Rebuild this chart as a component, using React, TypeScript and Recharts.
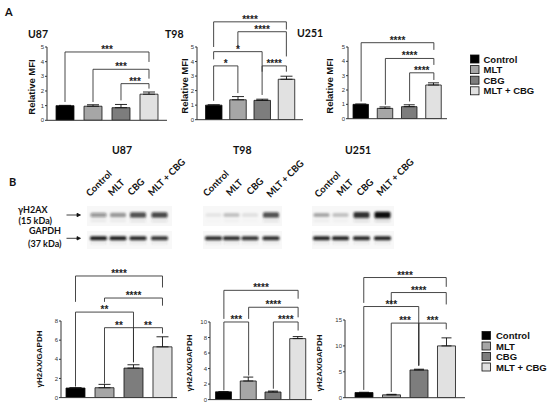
import React from 'react';
import { BarChart, Bar, Cell, XAxis, YAxis, ErrorBar, ReferenceLine } from 'recharts';

const groups = ['Control', 'MLT', 'CBG', 'MLT + CBG'];
const groupColors = ['#000000', '#a6a6a6', '#7d7d7d', '#e1e1e1'];

// A: relative MFI
const mfiU87 = [1.0, 0.96, 0.86, 1.78];
const mfiU87Err = [0.02, 0.1, 0.22, 0.15];
const mfiT98 = [1.0, 1.37, 1.33, 2.78];
const mfiT98Err = [0.02, 0.22, 0.08, 0.21];
const mfiU251 = [1.0, 0.72, 0.84, 2.35];
const mfiU251Err = [0.02, 0.1, 0.13, 0.15];
const mfiTicks = [0, 1, 2, 3, 4, 5];

// B: gH2AX / GAPDH
const ratioU87 = [1.0, 1.03, 3.08, 5.3];
const ratioU87Err = [0.03, 0.35, 0.35, 1.05];
const ratioT98 = [1.0, 2.4, 0.98, 7.86];
const ratioT98Err = [0.03, 0.5, 0.12, 0.26];
const ratioU251 = [1.0, 0.55, 5.35, 10.0];
const ratioU251Err = [0.05, 0.1, 0.15, 1.55];
const ticksU87 = [0, 2, 4, 6, 8];
const ticksT98 = [0, 2, 4, 6, 8, 10];
const ticksU251 = [0, 5, 10, 15];

// brackets: [from, to, level, left leg end, right leg end, stars]
type Sig = [string, string, number, number, number, string];
const sigMfiU87: Sig[] = [
  ['Control', 'MLT + CBG', 4.66, 1.25, 3.98, '***'],
  ['MLT', 'MLT + CBG', 3.48, 1.25, 2.84, '***'],
  ['CBG', 'MLT + CBG', 2.5, 1.36, 2.16, '***'],
];
const sigMfiT98: Sig[] = [
  ['Control', 'MLT + CBG', 6.73, 5.0, 6.2, '****'],
  ['MLT', 'MLT + CBG', 6.05, 5.0, 4.35, '****'],
  ['Control', 'CBG', 4.68, 4.15, 3.3, '*'],
  ['Control', 'MLT', 3.7, 1.3, 1.83, '*'],
  ['CBG', 'MLT + CBG', 3.7, 1.7, 3.3, '****'],
];
const sigMfiU251: Sig[] = [
  ['Control', 'MLT + CBG', 5.3, 1.2, 4.8, '****'],
  ['MLT', 'MLT + CBG', 4.2, 0.97, 3.75, '****'],
  ['CBG', 'MLT + CBG', 3.2, 1.2, 2.7, '****'],
];
const sigRatioU87: Sig[] = [
  ['Control', 'MLT + CBG', 12.7, 10.0, 11.5, '****'],
  ['MLT', 'MLT + CBG', 10.4, 10.0, 9.6, '****'],
  ['Control', 'CBG', 8.93, 1.15, 3.7, '**'],
  ['MLT', 'CBG', 7.3, 1.46, 3.7, '**'],
  ['CBG', 'MLT + CBG', 7.3, 3.7, 6.7, '**'],
];
const sigRatioT98: Sig[] = [
  ['Control', 'MLT + CBG', 14.08, 10.4, 13.0, '****'],
  ['MLT', 'MLT + CBG', 11.9, 10.4, 10.6, '****'],
  ['Control', 'MLT', 10.0, 1.2, 3.1, '***'],
  ['CBG', 'MLT + CBG', 10.0, 1.4, 8.9, '****'],
];
const sigRatioU251: Sig[] = [
  ['Control', 'MLT + CBG', 23.2, 18.3, 21.4, '****'],
  ['MLT', 'MLT + CBG', 20.3, 18.0, 18.0, '****'],
  ['Control', 'CBG', 17.6, 1.5, 6.2, '***'],
  ['MLT', 'CBG', 14.4, 1.1, 6.2, '***'],
  ['CBG', 'MLT + CBG', 14.4, 6.2, 13.2, '***'],
];

// blot band intensities (0..1) per lane
const blotU87H2ax = [0.42, 0.38, 0.72, 0.76];
const blotU87Gapdh = [0.95, 0.95, 0.9, 0.85];
const blotT98H2ax = [0.08, 0.22, 0.1, 0.72];
const blotT98Gapdh = [0.88, 0.88, 0.85, 0.88];
const blotU251H2ax = [0.32, 0.22, 0.85, 1.0];
const blotU251Gapdh = [0.92, 0.92, 0.9, 0.92];

type Frame = { left: number; right: number; top: number; base: number; pad: number; bar: number; cap: number };

const AXIS = '#333';
const SANS = '"Liberation Sans", Arial, sans-serif';
const TITLE = 'Lato, "Open Sans", sans-serif';

const Stars = (props: any) => {
  const { viewBox, text } = props;
  if (!viewBox) return null;
  return (
    <text x={viewBox.x + viewBox.width / 2} y={viewBox.y + 1} textAnchor="middle" fontSize={10} fontWeight={700} fill="#222" fontFamily={SANS}>
      {text}
    </text>
  );
};

function SigChart({ values, errs, ticks, sig, frame }: { values: number[]; errs: number[]; ticks: number[]; sig: Sig[]; frame: Frame }) {
  const data = groups.map((g, i) => ({ name: g, value: values[i], err: [0, errs[i]] }));
  const yw = 18;
  const mt = 64;
  const xh = 2;
  const w = yw + frame.right - frame.left + 3;
  const h = mt + frame.base - frame.top + xh + 2;
  const lineProps = { stroke: '#333', strokeWidth: 0.9, ifOverflow: 'visible' as const };
  return (
    <div style={{ position: 'absolute', left: frame.left - yw, top: frame.top - mt }}>
      <BarChart width={w} height={h} data={data} margin={{ top: mt, right: 3, bottom: 2, left: 0 }}>
        <XAxis dataKey="name" type="category" tick={false} tickLine={false} axisLine={{ stroke: AXIS }} height={xh} padding={{ left: frame.pad, right: frame.pad }} />
        <YAxis type="number" domain={[0, ticks[ticks.length - 1]]} ticks={ticks} interval={0} allowDataOverflow width={yw} tickSize={2} tickMargin={1} tick={{ fontSize: 6, fill: '#333' }} axisLine={{ stroke: AXIS }} tickLine={{ stroke: AXIS }} />
        <Bar dataKey="value" barSize={frame.bar} stroke="#111" strokeWidth={0.8} isAnimationActive={false}>
          {data.map((d, i) => (
            <Cell key={d.name} fill={groupColors[i]} />
          ))}
          <ErrorBar dataKey="err" direction="y" width={frame.cap} stroke="#111" strokeWidth={0.9} />
        </Bar>
        {sig.flatMap(([from, to, level, leftEnd, rightEnd, stars], i) => [
          <ReferenceLine
            key={`h${i}`}
            segment={[{ x: from, y: level }, { x: to, y: level }]}
            {...lineProps}
            label={<Stars text={stars} />}
          />,
          <ReferenceLine key={`l${i}`} segment={[{ x: from, y: leftEnd }, { x: from, y: level }]} {...lineProps} />,
          <ReferenceLine key={`r${i}`} segment={[{ x: to, y: rightEnd }, { x: to, y: level }]} {...lineProps} />,
        ])}
      </BarChart>
    </div>
  );
}

function Legend({ x, y, step, tx }: { x: number; y: number; step: number; tx: number }) {
  return (
    <g>
      {groups.map((g, i) => (
        <g key={g}>
          <rect x={x} y={y + i * step} width={8.5} height={8} fill={groupColors[i]} stroke="#111" strokeWidth={0.8} />
          <text x={tx} y={y + i * step + 7.6} fontSize={9.5} fontWeight={700} fontFamily={SANS} fill="#111">
            {g}
          </text>
        </g>
      ))}
    </g>
  );
}

function Blot({ x0, x1, lanes, h2ax, gapdh, starts }: { x0: number; x1: number; lanes: number[]; h2ax: number[]; gapdh: number[]; starts: [number, number][] }) {
  return (
    <g>
      <rect x={x0} y={206} width={x1 - x0} height={20} fill="#f7f7f7" />
      <rect x={x0} y={231} width={x1 - x0} height={18} fill="#f8f8f8" />
      {lanes.map((cx, i) => (
        <g key={i} filter="url(#blur)">
          <rect x={cx - 8} y={215 - (1.6 + 1.6 * h2ax[i])} width={16} height={3.2 + 3.2 * h2ax[i]} rx={1.5} fill="#111" opacity={h2ax[i]} />
          <rect x={cx - 8} y={219.5} width={16} height={2.5} rx={1} fill="#333" opacity={h2ax[i] * 0.15} />
          <rect x={cx - 8.5} y={236.3} width={17} height={4} rx={1.5} fill="#111" opacity={gapdh[i]} />
          <rect x={cx - 8} y={242.5} width={16} height={1.6} rx={0.8} fill="#444" opacity={0.12} />
        </g>
      ))}
      {groups.map((g, i) => (
        <text key={g} x={starts[i][0]} y={starts[i][1]} fontSize={9.5} fontWeight={700} fontFamily={TITLE} fill="#111" transform={`rotate(-45 ${starts[i][0]} ${starts[i][1]})`}>
          {g}
        </text>
      ))}
    </g>
  );
}

function YLabel({ x, y, text, size }: { x: number; y: number; text: string; size: number }) {
  return (
    <text x={x} y={y} fontSize={size} fontWeight={700} fontFamily={SANS} fill="#111" textAnchor="middle" dominantBaseline="central" transform={`rotate(-90 ${x} ${y})`}>
      {text}
    </text>
  );
}

const frames: Record<string, Frame> = {
  aU87: { left: 47, right: 167, top: 46.7, base: 120, pad: 4, bar: 18, cap: 6 },
  aT98: { left: 197, right: 303, top: 47.3, base: 120, pad: 4.5, bar: 16.5, cap: 6 },
  aU251: { left: 348, right: 447, top: 47.3, base: 119, pad: 1, bar: 15.5, cap: 5.5 },
  bU87: { left: 61, right: 177, top: 320.7, base: 397.3, pad: 0, bar: 19, cap: 6 },
  bT98: { left: 210, right: 312, top: 321.7, base: 399.3, pad: 1.5, bar: 16, cap: 5 },
  bU251: { left: 345, right: 465, top: 320, base: 397.7, pad: 5, bar: 18, cap: 5 },
};

export default function App() {
  return (
    <div style={{ position: 'absolute', left: 0, top: 0, width: 550, height: 408, background: '#fff', overflow: 'hidden', fontFamily: SANS }}>
      <svg width={550} height={408} style={{ position: 'absolute', left: 0, top: 0 }}>
        <defs>
          <filter id="blur" x="-20%" y="-50%" width="140%" height="200%">
            <feGaussianBlur stdDeviation="0.8" />
          </filter>
        </defs>
        <g fontFamily={TITLE} fontWeight={700} fill="#111">
          <text x={5} y={15.5} fontSize={11}>A</text>
          <text x={28} y={37.5} fontSize={10.5}>U87</text>
          <text x={165} y={37.5} fontSize={10.5}>T98</text>
          <text x={297} y={37} fontSize={10.5}>U251</text>
          <text x={9} y={186} fontSize={11}>B</text>
          <text x={112} y={154} fontSize={10.5}>U87</text>
          <text x={233} y={154} fontSize={10.5}>T98</text>
          <text x={345} y={154} fontSize={10.5}>U251</text>
          <text x={18} y={213} fontSize={9}>γH2AX</text>
          <text x={18.5} y={224} fontSize={9}>(15 kDa)</text>
          <text x={29} y={233.5} fontSize={9}>GAPDH</text>
          <text x={28} y={247} fontSize={9}>(37 kDa)</text>
        </g>
        <g stroke="#111" strokeWidth={0.8} fill="#111">
          <line x1={66.5} y1={215} x2={78} y2={215} />
          <path d="M80.5 215 L77 213.3 L77 216.7 Z" />
          <line x1={66.5} y1={238.3} x2={78} y2={238.3} />
          <path d="M80.5 238.3 L77 236.6 L77 240 Z" />
        </g>
        <Blot x0={87} x1={172} lanes={[98.5, 118, 138, 159.5]} h2ax={blotU87H2ax} gapdh={blotU87Gapdh} starts={[[90, 197], [112, 196.5], [131.5, 196], [152, 196.5]]} />
        <Blot x0={203} x1={282} lanes={[213.5, 231.5, 250, 271]} h2ax={blotT98H2ax} gapdh={blotT98Gapdh} starts={[[207, 197], [230, 196.5], [250.5, 195.5], [270.5, 198]]} />
        <Blot x0={312} x1={394} lanes={[321.5, 340.5, 361.5, 382.5]} h2ax={blotU251H2ax} gapdh={blotU251Gapdh} starts={[[318.5, 198], [340.5, 196.5], [360.5, 196.5], [380.5, 196.5]]} />
        <YLabel x={31.7} y={87} text="Relative MFI" size={9.5} />
        <YLabel x={184} y={86} text="Relative MFI" size={9.5} />
        <YLabel x={329.5} y={86} text="Relative MFI" size={9.5} />
        <YLabel x={39} y={359} text="γH2AX/GAPDH" size={8} />
        <YLabel x={189} y={363} text="γH2AX/GAPDH" size={8} />
        <YLabel x={319.7} y={363} text="γH2AX/GAPDH" size={8} />
        <Legend x={470.5} y={55} step={10.6} tx={483.5} />
        <Legend x={482} y={331.5} step={10.5} tx={496} />
      </svg>
      <SigChart values={mfiU87} errs={mfiU87Err} ticks={mfiTicks} sig={sigMfiU87} frame={frames.aU87} />
      <SigChart values={mfiT98} errs={mfiT98Err} ticks={mfiTicks} sig={sigMfiT98} frame={frames.aT98} />
      <SigChart values={mfiU251} errs={mfiU251Err} ticks={mfiTicks} sig={sigMfiU251} frame={frames.aU251} />
      <SigChart values={ratioU87} errs={ratioU87Err} ticks={ticksU87} sig={sigRatioU87} frame={frames.bU87} />
      <SigChart values={ratioT98} errs={ratioT98Err} ticks={ticksT98} sig={sigRatioT98} frame={frames.bT98} />
      <SigChart values={ratioU251} errs={ratioU251Err} ticks={ticksU251} sig={sigRatioU251} frame={frames.bU251} />
    </div>
  );
}
